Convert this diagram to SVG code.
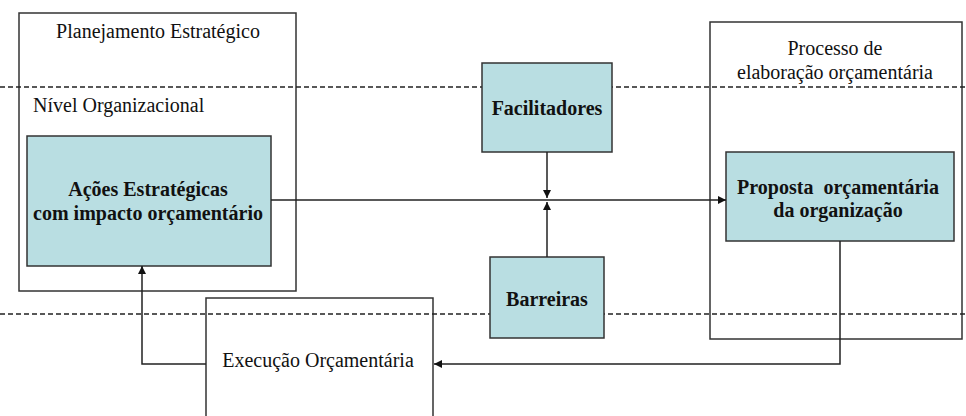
<svg xmlns="http://www.w3.org/2000/svg" width="966" height="416" viewBox="0 0 966 416">
<defs>
<style>
.frame{fill:#fff;stroke:#333;stroke-width:1.5}
.node{fill:#b9dee2;stroke:#333;stroke-width:1.5}
.dash{stroke:#222;stroke-width:1.3;stroke-dasharray:5 3;fill:none}
.conn{stroke:#222;stroke-width:1.5;fill:none}
.t{font-family:"Liberation Serif","Times New Roman",serif;font-size:20px;fill:#111}
.b{font-family:"Liberation Serif","Times New Roman",serif;font-size:20px;font-weight:bold;fill:#111}
</style>
<marker id="arr" viewBox="0 0 10 10" refX="10" refY="5" markerWidth="8" markerHeight="8" markerUnits="userSpaceOnUse" orient="auto">
<path d="M0,0 L10,5 L0,10 z" fill="#111"/>
</marker>
</defs>
<rect width="966" height="416" fill="#fff"/>
<g id="planejamento">
<rect class="frame" x="19" y="13" width="277" height="278"/>
<text class="t" x="158" y="38" text-anchor="middle">Planejamento Estratégico</text>
<text class="t" x="33" y="112">Nível Organizacional</text>
</g>
<g id="processo">
<rect class="frame" x="710" y="22" width="252" height="317"/>
<text class="t" x="835" y="55" text-anchor="middle">Processo de</text>
<text class="t" x="835" y="79" text-anchor="middle">elaboração orçamentária</text>
</g>
<g id="execucao">
<path class="frame" d="M206,420 L206,298 L433,298 L433,420"/>
<text class="t" x="318" y="367" text-anchor="middle">Execução Orçamentária</text>
</g>
<g id="dashes">
<line class="dash" x1="0" y1="87" x2="966" y2="87"/>
<line class="dash" x1="0" y1="314" x2="966" y2="314"/>
</g>
<g id="acoes">
<rect class="node" x="27" y="136" width="244" height="130"/>
<text class="b" x="148" y="196" text-anchor="middle">Ações Estratégicas</text>
<text class="b" x="148" y="220" text-anchor="middle">com impacto orçamentário</text>
</g>
<g id="facilitadores">
<rect class="node" x="482" y="63" width="130" height="89"/>
<text class="b" x="547" y="115" text-anchor="middle">Facilitadores</text>
</g>
<g id="barreiras">
<rect class="node" x="490" y="257" width="114" height="81"/>
<text class="b" x="547" y="306" text-anchor="middle">Barreiras</text>
</g>
<g id="proposta">
<rect class="node" x="726" y="152" width="228" height="89"/>
<text class="b" x="838" y="194" text-anchor="middle" xml:space="preserve">Proposta  orçamentária</text>
<text class="b" x="838" y="217" text-anchor="middle">da organização</text>
</g>
<g id="connectors">
<line class="conn" x1="271" y1="200" x2="726" y2="200" marker-end="url(#arr)"/>
<line class="conn" x1="547" y1="152" x2="547" y2="198" marker-end="url(#arr)"/>
<line class="conn" x1="547" y1="257" x2="547" y2="202" marker-end="url(#arr)"/>
<polyline class="conn" points="840,241 840,364 434,364" marker-end="url(#arr)"/>
<polyline class="conn" points="206,364 142,364 142,266" marker-end="url(#arr)"/>
</g>
</svg>
